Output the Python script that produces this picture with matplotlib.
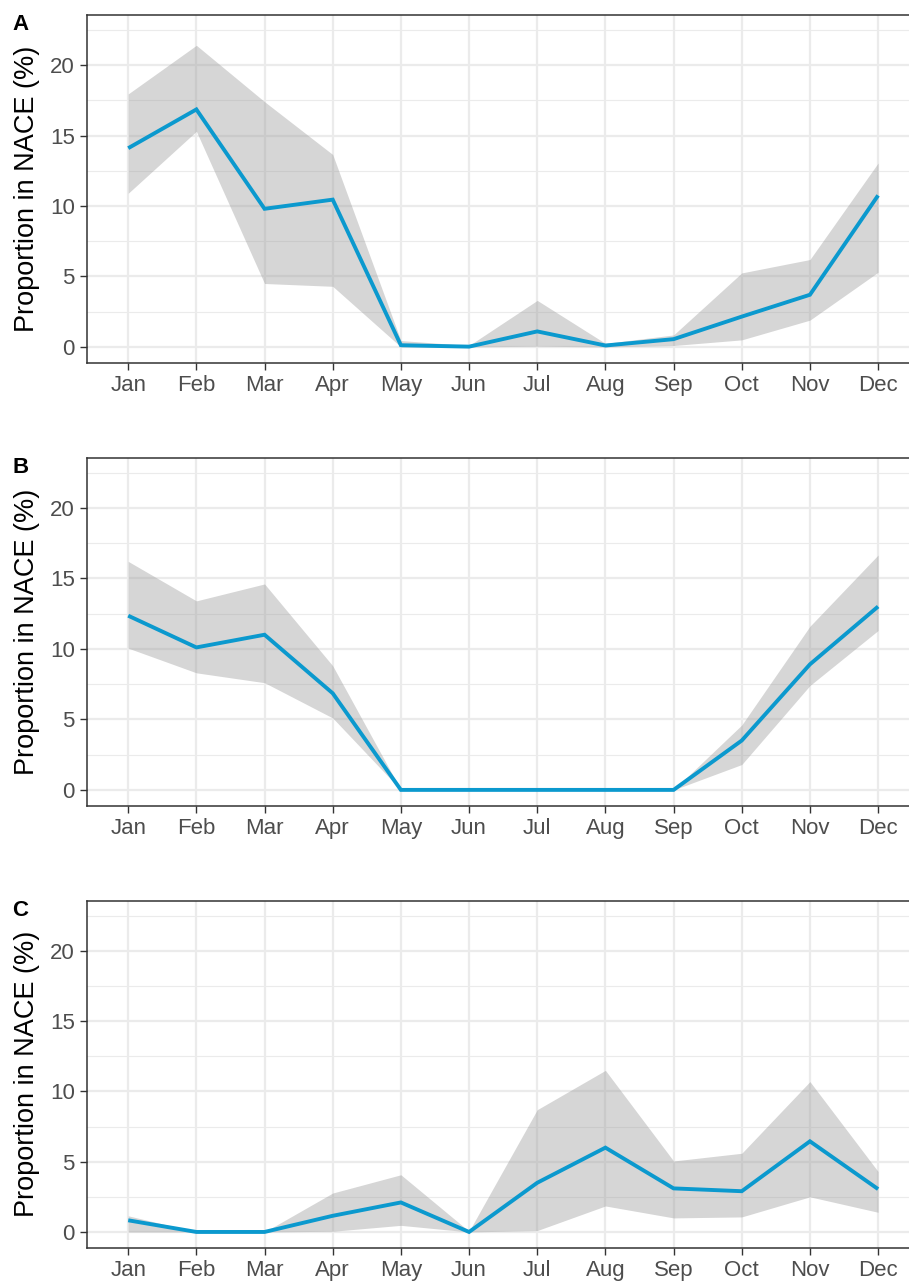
import matplotlib
matplotlib.use("Agg")
import matplotlib.pyplot as plt
from matplotlib.ticker import MultipleLocator
import numpy as np

months = ["Jan", "Feb", "Mar", "Apr", "May", "Jun", "Jul", "Aug", "Sep", "Oct", "Nov", "Dec"]
panel_labels = ["A", "B", "C"]

a_mean  = [14.1, 16.85, 9.8, 10.45, 0.12, 0.02, 1.1, 0.1, 0.55, 2.15, 3.7, 10.75]
a_upper = [17.95, 21.4, 17.4, 13.65, 0.45, 0.1, 3.3, 0.25, 0.85, 5.25, 6.2, 13.05]
a_lower = [10.9, 15.3, 4.5, 4.3, 0.0, 0.0, 0.05, 0.0, 0.1, 0.5, 1.9, 5.3]

b_mean  = [12.35, 10.1, 11.0, 6.85, 0, 0, 0, 0, 0, 3.5, 8.9, 13.0]
b_upper = [16.2, 13.4, 14.6, 8.8, 0, 0, 0, 0, 0, 4.6, 11.6, 16.65]
b_lower = [10.05, 8.3, 7.6, 5.1, 0, 0, 0, 0, 0, 1.8, 7.4, 11.3]

c_mean  = [0.83, 0, 0, 1.15, 2.1, 0, 3.5, 6.0, 3.1, 2.9, 6.45, 3.05]
c_upper = [1.15, 0, 0, 2.77, 4.07, 0.05, 8.7, 11.5, 5.05, 5.6, 10.7, 4.3]
c_lower = [0.0, 0, 0, 0.05, 0.47, 0, 0.1, 1.85, 1.0, 1.07, 2.5, 1.4]

series = [(a_mean, a_lower, a_upper), (b_mean, b_lower, b_upper), (c_mean, c_lower, c_upper)]

W, H = 909, 1282
fig = plt.figure(figsize=(W / 100, H / 100), dpi=100)
plt.rcParams['font.family'] = ['Liberation Sans', 'DejaVu Sans']

left_px, right_px = 87.3, 919.0
panels_px = [(15.0, 362.7), (457.7, 805.7), (901.0, 1247.7)]

x = np.arange(1, 13)
for (top, bot), (m, lo, up), lab in zip(panels_px, series, panel_labels):
    ax = fig.add_axes([left_px / W, 1 - bot / H, (right_px - left_px) / W, (bot - top) / H])
    ax.set_xlim(0.4, 12.6)
    ax.set_ylim(-1.12, 23.55)
    ax.set_axisbelow(True)
    ax.yaxis.set_major_locator(MultipleLocator(5))
    ax.yaxis.set_minor_locator(MultipleLocator(2.5))
    ax.set_xticks(x)
    ax.set_xticklabels(months)
    ax.grid(which='major', color='#EBEBEB', linewidth=1.6)
    ax.grid(which='minor', axis='y', color='#EBEBEB', linewidth=0.8)
    ax.tick_params(which='minor', length=0)
    ax.tick_params(which='major', length=5, width=1.0, color='#333333',
                   labelcolor='#4D4D4D', labelsize=16, pad=4)
    ax.tick_params(axis='y', pad=4)
    for s in ax.spines.values():
        s.set_color('#333333')
        s.set_linewidth(1.1)
    ax.fill_between(x, lo, up, color='#999999', alpha=0.4, linewidth=0)
    ax.plot(x, m, color='#0B99CE', linewidth=2.8, solid_joinstyle='miter', solid_capstyle='butt')
    ax.set_ylabel("Proportion in NACE (%)", fontsize=19.5, color='black', va='center')
    ax.yaxis.set_label_coords((27 - left_px) / (right_px - left_px), 0.5)
    fig.text(12 / W, 1 - (top - 1) / H, lab, fontsize=16, fontweight='bold', ha='left', va='top')

fig.savefig("out.png", dpi=100)
